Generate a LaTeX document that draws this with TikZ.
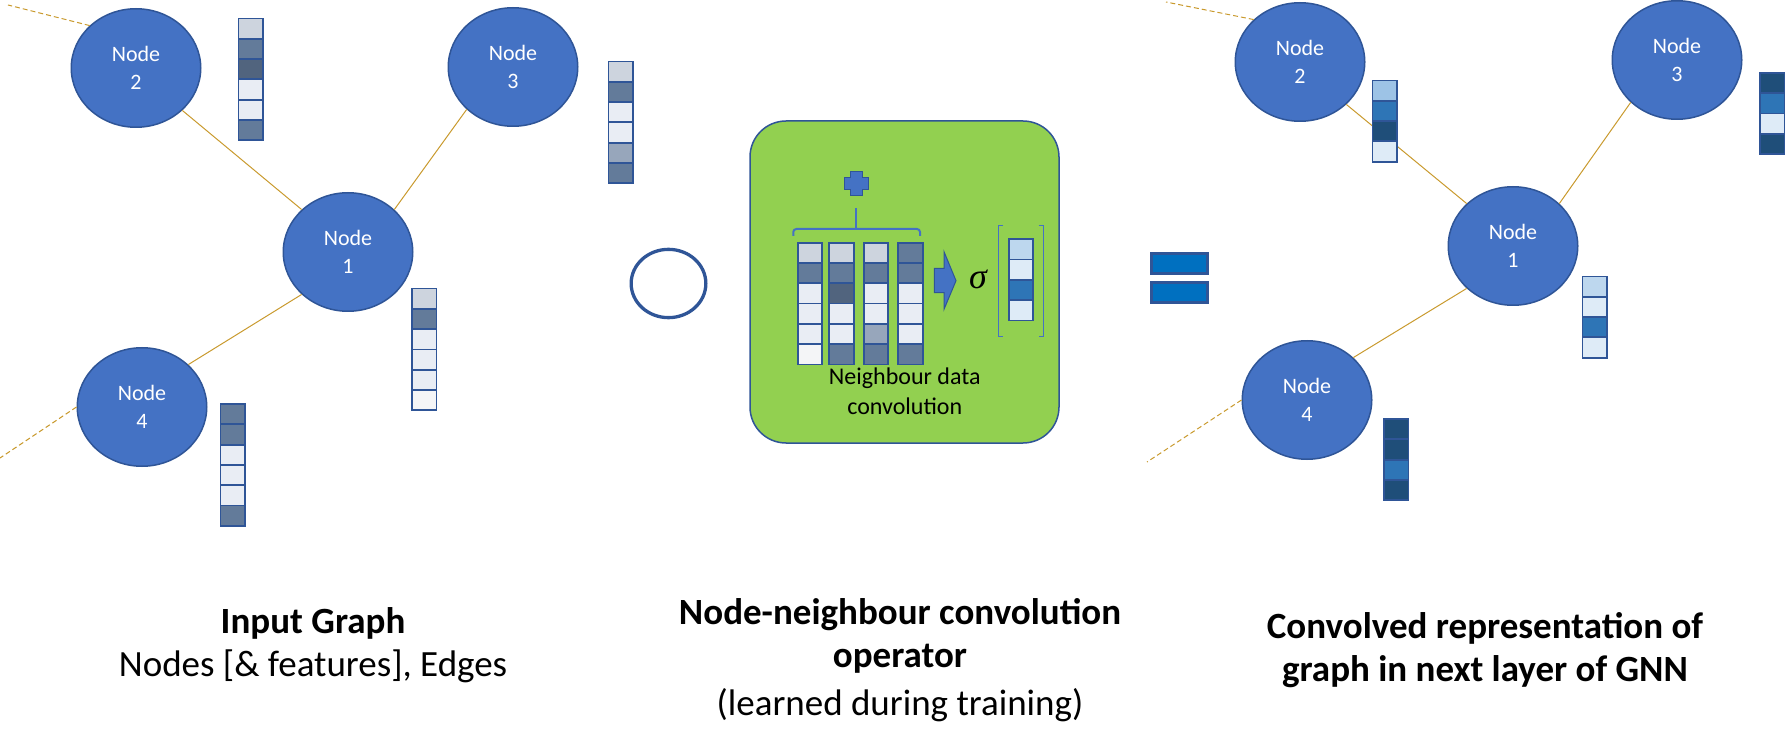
\documentclass[tikz,border=0pt]{standalone}
\usepackage{fontspec}
\setmainfont{Carlito}
\newfontfamily\sigfont{Liberation Serif}
\usepackage{tikz}
\usetikzlibrary{shapes, positioning}

\definecolor{nodefill}{HTML}{4472C4}
\definecolor{nodeline}{HTML}{2F5597}
\definecolor{edgegold}{HTML}{C99A2E}
\definecolor{boxgreen}{HTML}{92D050}
\definecolor{eqblue}{HTML}{0070C0}
\definecolor{fa}{HTML}{CDD4DE}
\definecolor{fb}{HTML}{637B9A}
\definecolor{fc}{HTML}{51647E}
\definecolor{fd}{HTML}{E9EDF4}
\definecolor{fe}{HTML}{F4F5F7}
\definecolor{ff}{HTML}{97A6BB}
\definecolor{ra}{HTML}{BDD7EE}
\definecolor{rb}{HTML}{DEEBF7}
\definecolor{rc}{HTML}{2E75B6}
\definecolor{rd}{HTML}{1F4E79}
\definecolor{re}{HTML}{9DC3E6}

\tikzset{
    gnode/.style={ellipse, draw=nodeline, fill=nodefill, line width=1.5pt,
        minimum width=129.5pt, minimum height=118.5pt, inner sep=0pt,
        text=white, align=center, font=\fontsize{22}{28}\selectfont},
    link/.style={edgegold, line width=1pt},
    outlink/.style={edgegold, line width=1pt, dash pattern=on 5pt off 3pt},
    cell/.style={draw=nodeline, line width=1.8pt},
    caption/.style={align=center, font=\fontsize{37}{43}\selectfont},
    opbox/.style={draw=nodeline, fill=boxgreen, line width=1.5pt, rounded corners=36pt,
        minimum width=309pt, minimum height=322pt},
    eqbar/.style={draw=nodeline, fill=eqblue, line width=3pt,
        minimum width=56pt, minimum height=20.3pt, inner sep=0pt},
    sumbrace/.style={draw=nodefill, line width=2pt, rounded corners=3pt},
    bracket/.style={draw=nodefill, line width=0.8pt}
}

\newcommand{\featvec}[3]{%
    \foreach \col [count=\i from 0] in {#3}
        \filldraw[cell, fill=\col] (#1, #2+\i*20.3) rectangle ++(24.5, 20.3);
}

\begin{document}
\begin{tikzpicture}[x=1pt, y=-1pt]
    \useasboundingbox (0, 0) rectangle (1786, 751);

    \node[gnode] (l1) at (348, 252) {Node\\1};
    \node[gnode] (l2) at (136, 68) {Node\\2};
    \node[gnode] (l3) at (513, 67) {Node\\3};
    \node[gnode] (l4) at (142, 407) {Node\\4};
    \coordinate (l2out) at (8, 5);
    \coordinate (l4out) at (0, 458);

    \draw[link] (l2.south east) -- (l1.north west);
    \draw[link] (l3.south west) -- (l1.north east);
    \draw[link] (l1.south west) -- (l4.north east);
    \draw[outlink] (l2.north west) -- (l2out);
    \draw[outlink] (l4.west) -- (l4out);

    \featvec{238.5}{18.5}{fa,fb,fc,fd,fd,fb}
    \featvec{608.5}{61.5}{fa,fb,fd,fd,ff,fb}
    \featvec{412}{288.5}{fa,fb,fd,fd,fd,fe}
    \featvec{220.5}{404}{fb,fb,fd,fd,fd,fb}

    \node[ellipse, draw=nodeline, line width=3.3pt, minimum width=74.7pt, minimum height=68.3pt] (circ) at (668.5, 283.5) {};

    \node[opbox] (conv) at (904.5, 282) {};
    \filldraw[fill=nodefill, draw=nodeline, line width=1pt] (850.5, 172) -- ++(12, 0) -- ++(0, 6) -- ++(6, 0) -- ++(0, 12) -- ++(-6, 0) -- ++(0, 6) -- ++(-12, 0) -- ++(0, -6) -- ++(-6, 0) -- ++(0, -12) -- ++(6, 0) -- cycle;
    \draw[sumbrace] (793.3, 236) |- (920, 229) -- (920, 236);
    \draw[sumbrace] (856.3, 229) -- (856.3, 208);
    \featvec{797.7}{242.7}{fa,fb,fd,fd,fd,fe}
    \featvec{829.3}{242.7}{fa,fb,fc,fd,fd,fb}
    \featvec{863.7}{242.7}{fa,fb,fd,fd,ff,fb}
    \featvec{898.3}{242.7}{fb,fb,fd,fd,fd,fb}
    \filldraw[fill=nodefill, draw=nodeline, line width=1pt] (934.3, 268.3) -- (944, 268.3) -- (944, 251.7) -- (956, 280.7) -- (944, 309.3) -- (944, 292.7) -- (934.3, 292.7) -- cycle;
    \node (sig) at (978, 279) {\fontsize{36}{40}\selectfont\sigfont\itshape σ};
    \draw[bracket] (1003, 225) -- (998.7, 225) -- (998.7, 336.7) -- (1003, 336.7);
    \draw[bracket] (1038.7, 225) -- (1043.3, 225) -- (1043.3, 336.7) -- (1038.7, 336.7);
    \featvec{1008.7}{239.3}{ra,rb,rc,rb}
    \node[align=center, font=\fontsize{24}{30}\selectfont] (convtxt) at (904.8, 391.7) {Neighbour data\\convolution};

    \node[eqbar] (eqtop) at (1179.5, 263.4) {};
    \node[eqbar] (eqbot) at (1179.5, 292.7) {};

    \node[gnode] (r1) at (1513, 246) {Node\\1};
    \node[gnode] (r2) at (1300, 62) {Node\\2};
    \node[gnode] (r3) at (1677, 60) {Node\\3};
    \node[gnode] (r4) at (1307, 400) {Node\\4};
    \coordinate (r2out) at (1166, 2);
    \coordinate (r4out) at (1147, 462);

    \draw[link] (r2.south east) -- (r1.north west);
    \draw[link] (r3.south west) -- (r1.north east);
    \draw[link] (r1.south west) -- (r4.north east);
    \draw[outlink] (r2.north west) -- (r2out);
    \draw[outlink] (r4.west) -- (r4out);

    \featvec{1372.5}{80.5}{re,rc,rd,rb}
    \featvec{1760}{73}{rd,rc,rb,rd}
    \featvec{1582.5}{276.5}{ra,rb,rc,rb}
    \featvec{1384}{419}{rd,rd,rc,rd}

    \node[caption] (capin) at (313, 645) {\textbf{Input Graph}\\Nodes [\& features], Edges};
    \node[caption] (capop) at (900, 660) {\textbf{Node-neighbour convolution}\\\textbf{operator}\\[5pt](learned during training)};
    \node[caption] (capout) at (1485, 650) {\textbf{Convolved representation of}\\\textbf{graph in next layer of GNN}};
\end{tikzpicture}
\end{document}
